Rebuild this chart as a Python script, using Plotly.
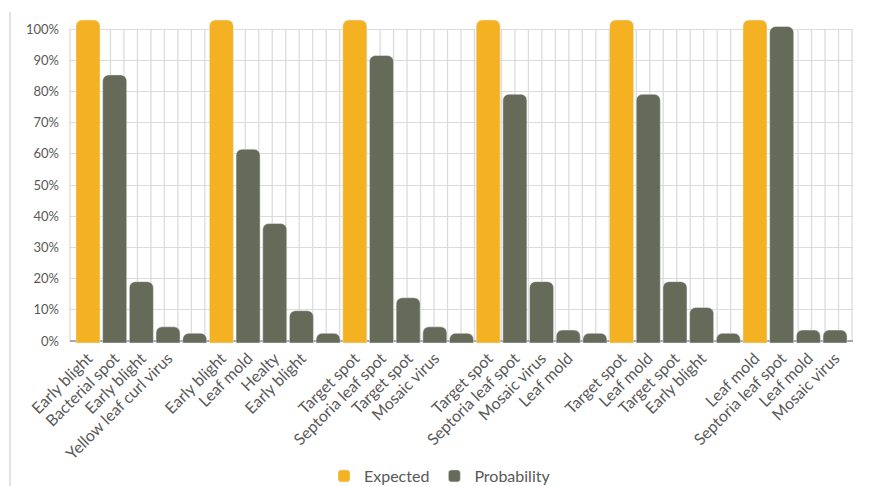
import plotly.graph_objects as go

labels = ["Early blight", "Bacterial spot", "Early blight", "Yellow leaf curl virus", "",
          "Early blight", "Leaf mold", "Healty", "Early blight", "",
          "Target spot", "Septoria leaf spot", "Target spot", "Mosaic virus", "",
          "Target spot", "Septoria leaf spot", "Mosaic virus", "Leaf mold", "",
          "Target spot", "Leaf mold", "Target spot", "Early blight", "",
          "Leaf mold", "Septoria leaf spot", "Leaf mold", "Mosaic virus"]

expected = [100, None, None, None, None,
            100, None, None, None, None,
            100, None, None, None, None,
            100, None, None, None, None,
            100, None, None, None, None,
            100, None, None, None]

probability = [None, 83, 19, 5, 3,
               None, 60, 37, 10, 3,
               None, 89, 14, 5, 3,
               None, 77, 19, 4, 3,
               None, 77, 19, 11, 3,
               None, 98, 4, 4]

ytick_vals = [0, 10, 20, 30, 40, 50, 60, 70, 80, 90, 100]
ytick_text = [f"{v}%" for v in ytick_vals]

YELLOW = "#F4B223"
GRAY = "#666A58"
TXT = "#595959"
GRID = "#DCDCDC"

xs = list(range(len(labels)))

fig = go.Figure()
fig.add_trace(go.Bar(x=xs, y=expected, name="Expected", marker=dict(color=YELLOW, cornerradius=6),
                     width=0.9, yaxis="y2"))
fig.add_trace(go.Bar(x=xs, y=probability, name="Probability", marker=dict(color=GRAY, cornerradius=6),
                     width=0.9, yaxis="y2"))

# plot area: x 70..853 px, y 15..345 px
W, H = 869, 486
L, R, T, B = 70, 853, 15, 345
step = 26.68
first_center = 88
xmin = -(first_center - L) / step
xmax = xmin + (R - L) / step

# back-plane axis: 0% at 341px, 100% at 29px
ppu = (341 - 29) / 100
y_lo = -(B - 341) / ppu
y_hi = 100 + (29 - T) / ppu
# front-plane axis for bars: 0 at 343, 100 at 20
ppu2 = (343 - 20) / 100
y2_lo = -(B - 343) / ppu2
y2_hi = 100 + (20 - T) / ppu2

shapes = []
ngrid = 58
for k in range(ngrid + 1):
    xp = k / ngrid * (852 - L) / (R - L)
    shapes.append(dict(type="line", xref="paper", yref="y", x0=xp, x1=xp, y0=0, y1=100,
                       line=dict(color=GRID, width=1.3), layer="below"))
# left chart border
shapes.append(dict(type="line", xref="paper", yref="paper",
                   x0=(10 - L) / (R - L), x1=(10 - L) / (R - L),
                   y0=(B - 12) / (B - T), y1=(B - 490) / (B - T),
                   line=dict(color="#D9D9D9", width=1.5)))

fig.update_layout(
    width=W, height=H,
    margin=dict(l=L, r=W - R, t=T, b=H - B, pad=0, autoexpand=False),
    paper_bgcolor="white", plot_bgcolor="white",
    barmode="overlay",
    font=dict(family="Lato, 'Open Sans', sans-serif", color=TXT, size=13),
    xaxis=dict(range=[xmin, xmax], tickmode="array", tickvals=xs, ticktext=labels,
               tickangle=-45, showgrid=False, zeroline=False, showline=False, ticks="",
               automargin=False, tickfont=dict(size=16, color=TXT)),
    yaxis=dict(range=[y_lo, y_hi], tickmode="array", tickvals=ytick_vals, ticktext=ytick_text,
               showgrid=True, gridcolor=GRID, gridwidth=1.3, zeroline=True, zerolinecolor="#A6A6A6",
               zerolinewidth=1.5, showline=False, ticks="", ticklabelstandoff=10,
               automargin=False, tickfont=dict(size=13, color=TXT)),
    yaxis2=dict(range=[y2_lo, y2_hi], overlaying="y", side="left", showgrid=False,
                zeroline=False, showticklabels=False, ticks="", automargin=False),
    showlegend=True,
    legend=dict(orientation="h", x=(440 - L) / (R - L), xanchor="center",
                y=(B - 476) / (B - T), yanchor="middle",
                font=dict(size=16, color=TXT), itemwidth=30, traceorder="normal"),
    shapes=shapes,
)

fig.write_html("out.html")
